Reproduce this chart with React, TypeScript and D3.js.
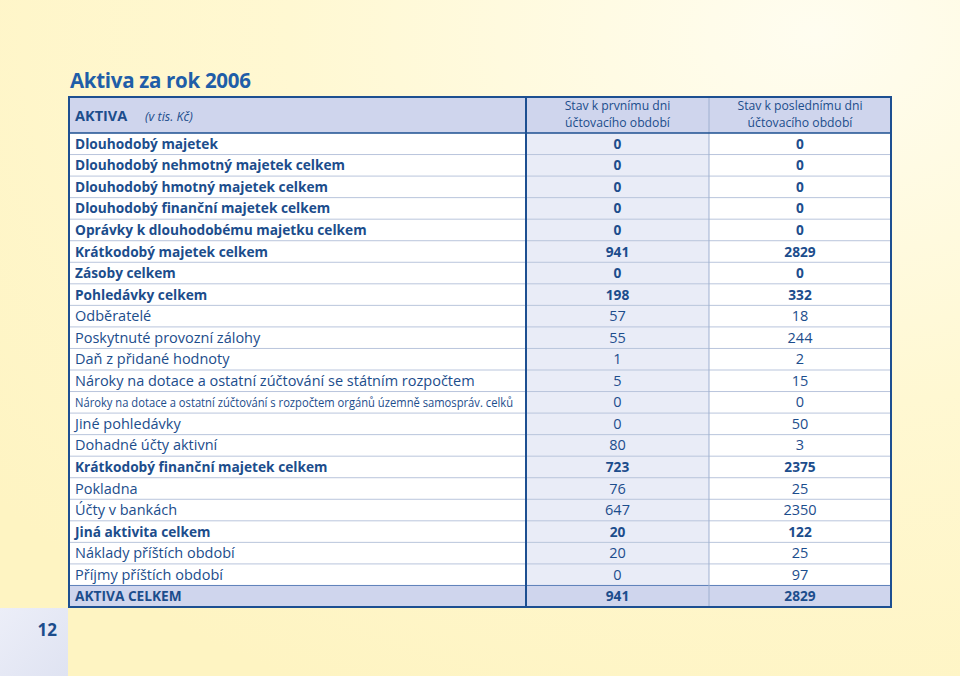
import React from "react";
import * as d3 from "d3";

const title = "Aktiva za rok 2006";
const headLabel = "AKTIVA";
const headUnit = "(v tis. Kč)";
const colHeads = [
  ["Stav k prvnímu dni", "účtovacího období"],
  ["Stav k poslednímu dni", "účtovacího období"],
];
const labels = [
  "Dlouhodobý majetek",
  "Dlouhodobý nehmotný majetek celkem",
  "Dlouhodobý hmotný majetek celkem",
  "Dlouhodobý finanční majetek celkem",
  "Oprávky k dlouhodobému majetku celkem",
  "Krátkodobý majetek celkem",
  "Zásoby celkem",
  "Pohledávky celkem",
  "Odběratelé",
  "Poskytnuté provozní zálohy",
  "Daň z přidané hodnoty",
  "Nároky na dotace a ostatní zúčtování se státním rozpočtem",
  "Nároky na dotace a ostatní zúčtování s rozpočtem orgánů územně samospráv. celků",
  "Jiné pohledávky",
  "Dohadné účty aktivní",
  "Krátkodobý finanční majetek celkem",
  "Pokladna",
  "Účty v bankách",
  "Jiná aktivita celkem",
  "Náklady příštích období",
  "Příjmy příštích období",
  "AKTIVA CELKEM",
];
const firstDay = [0, 0, 0, 0, 0, 941, 0, 198, 57, 55, 1, 5, 0, 0, 80, 723, 76, 647, 20, 20, 0, 941];
const lastDay = [0, 0, 0, 0, 0, 2829, 0, 332, 18, 244, 2, 15, 0, 50, 3, 2375, 25, 2350, 122, 25, 97, 2829];
const rowKinds = [
  "total", "total", "total", "total", "total", "total", "total", "total",
  "item", "item", "item", "item", "note", "item", "item",
  "total", "item", "item", "total", "item", "item", "grand",
];
const pageNumber = "12";

const W = 960, H = 676;
const dark = "#1d4f91";
const textCol = "#1c4d8c";
const font = "'Open Sans', 'Noto Sans', sans-serif";

export default function App() {
  const x0 = 69, x1 = 526, x2 = 709, x3 = 891;
  const headTop = 97, headBot = 133, tableBot = 607;
  const y = d3.scaleBand<number>().domain(d3.range(labels.length)).range([headBot, tableBot]);
  const bh = y.bandwidth();
  const c2 = (x1 + x2) / 2, c3 = (x2 + x3) / 2;
  return (
    <svg width={W} height={H} style={{ position: "absolute", left: 0, top: 0, display: "block" }}>
      <defs>
        <radialGradient id="bg" cx="0.85" cy="0.05" r="1.1">
          <stop offset="0" stopColor="#fffdf0" />
          <stop offset="0.5" stopColor="#fff8d2" />
          <stop offset="1" stopColor="#fef4c2" />
        </radialGradient>
        <linearGradient id="pg" x1="0" y1="0" x2="1" y2="1">
          <stop offset="0" stopColor="#eceef8" />
          <stop offset="1" stopColor="#dfe3f2" />
        </linearGradient>
      </defs>
      <rect width={W} height={H} fill="url(#bg)" />
      <rect x={0} y={608} width={68} height={68} fill="url(#pg)" />
      <text x={57} y={636} textAnchor="end" fontFamily={font} fontWeight={700} fontSize={17} fill={textCol}>{pageNumber}</text>
      <text x={70} y={88} fontFamily={font} fontWeight={700} fontSize={20.5} fill="#1f5ea8" letterSpacing={-0.3}>{title}</text>

      {/* header */}
      <rect x={x0} y={headTop} width={x3 - x0} height={headBot - headTop} fill="#cfd5ed" />
      {/* column 2 background */}
      <rect x={x1} y={headBot} width={x2 - x1} height={tableBot - headBot} fill="#e9ecf7" />
      <rect x={x0} y={headBot} width={x1 - x0} height={tableBot - headBot} fill="#ffffff" />
      <rect x={x2} y={headBot} width={x3 - x2} height={tableBot - headBot} fill="#ffffff" />
      {labels.map((_, i) => rowKinds[i] === "grand" ? (
        <rect key={"g" + i} x={x0} y={y(i)!} width={x3 - x0} height={bh} fill="#cfd5ed" />
      ) : null)}
      {/* row lines */}
      {labels.map((_, i) => i > 0 ? (
        <line key={"l" + i} x1={x0} x2={x3} y1={y(i)!} y2={y(i)!}
          stroke={rowKinds[i] === "grand" ? "#5b7fb8" : "#b9c5dc"} strokeWidth={1} />
      ) : null)}
      <line x1={x2} x2={x2} y1={headTop} y2={tableBot} stroke="#9fb0d0" strokeWidth={1} />
      <line x1={x1} x2={x1} y1={headTop} y2={tableBot} stroke={dark} strokeWidth={2} />
      <line x1={x0} x2={x3} y1={headBot} y2={headBot} stroke={dark} strokeWidth={1.5} />
      <rect x={x0} y={headTop} width={x3 - x0} height={tableBot - headTop} fill="none" stroke={dark} strokeWidth={2} />

      <text x={75} y={121} fontFamily={font} fontWeight={700} fontSize={14.5} fill={textCol}>{headLabel}</text>
      <text x={145} y={121} fontFamily={font} fontStyle="italic" fontSize={12.5} fill={textCol}>{headUnit}</text>
      {colHeads.map((h, j) => h.map((line, k) => (
        <text key={"h" + j + k} x={j === 0 ? c2 : c3} y={k === 0 ? 110 : 126.5} textAnchor="middle"
          fontFamily={font} fontSize={12.2} fill={textCol}>{line}</text>
      )))}

      {labels.map((lab, i) => {
        const k = rowKinds[i];
        const bold = k !== "item" && k !== "note";
        const yy = y(i)! + bh / 2 + 5;
        const fs = bold ? 13.7 : 14.5;
        return (
          <g key={"r" + i} fontFamily={font} fill={textCol} fontWeight={bold ? 700 : 400}>
            {k === "note" ? (
              <text x={75} y={yy - 0.5} fontSize={12} textLength={438} lengthAdjust="spacingAndGlyphs">{lab}</text>
            ) : (
              <text x={75} y={yy} fontSize={fs}>{lab}</text>
            )}
            <text x={c2} y={yy} textAnchor="middle" fontSize={fs}>{firstDay[i]}</text>
            <text x={c3} y={yy} textAnchor="middle" fontSize={fs}>{lastDay[i]}</text>
          </g>
        );
      })}
    </svg>
  );
}
